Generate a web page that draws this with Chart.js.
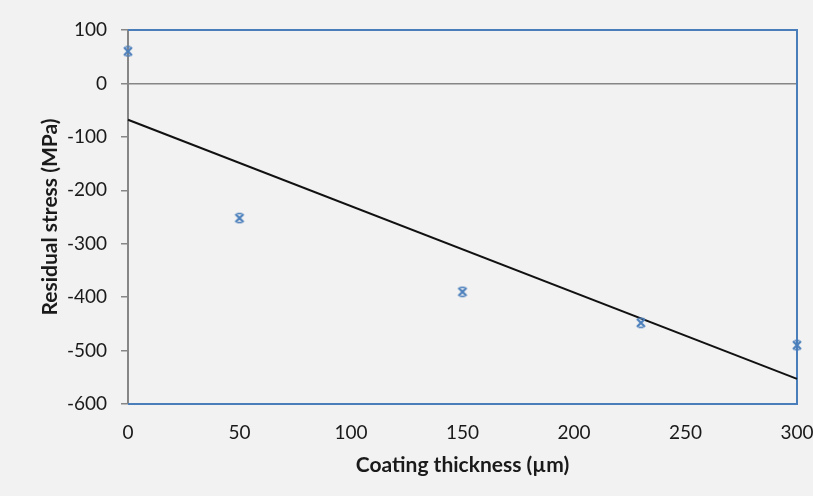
<!DOCTYPE html>
<html lang="en">
<head>
  <meta charset="UTF-8">
  <title>Residual stress vs coating thickness</title>
  <script src="https://cdn.jsdelivr.net/npm/chart.js"></script>
  <style>
    html, body {
      margin: 0;
      padding: 0;
      background: #f2f2f2;
    }
    #wrap {
      width: 813px;
      height: 496px;
    }
  </style>
</head>
<body>
  <div id="wrap"><canvas id="chart" width="813" height="496"></canvas></div>
  <script>
    // Measured points
    const thickness = [0, 50, 150, 230, 300];
    const stress = [60, -252, -390, -448, -490];

    // Trend line end points
    const trendX = [0, 300];
    const trendY = [-68, -553];

    const yTicks = [100, 0, -100, -200, -300, -400, -500, -600];
    const xTicks = [0, 50, 100, 150, 200, 250, 300];

    const blue = '#4a7ebb';
    const axisGray = '#868686';

    // marker: an x with little caps top and bottom
    function makeMarker() {
      const c = document.createElement('canvas');
      c.width = 12;
      c.height = 12;
      const g = c.getContext('2d');
      g.strokeStyle = blue;
      g.lineWidth = 2.2;
      g.beginPath();
      g.moveTo(2, 2); g.lineTo(10, 10);
      g.moveTo(10, 2); g.lineTo(2, 10);
      g.stroke();
      g.lineWidth = 1.5;
      g.beginPath();
      g.moveTo(3.5, 1.5); g.lineTo(8.5, 1.5);
      g.moveTo(3.5, 10.5); g.lineTo(8.5, 10.5);
      g.stroke();
      return c;
    }

    // blue frame on top, right and bottom of the plot area
    const frame = {
      id: 'frame',
      beforeDatasetsDraw(chart) {
        const { ctx, chartArea: a } = chart;
        ctx.save();
        ctx.strokeStyle = blue;
        ctx.lineWidth = 2;
        ctx.beginPath();
        ctx.moveTo(a.left, a.top);
        ctx.lineTo(a.right, a.top);
        ctx.lineTo(a.right, a.bottom);
        ctx.lineTo(a.left, a.bottom);
        ctx.stroke();
        ctx.restore();
      }
    };

    Chart.defaults.font.family = 'Lato, "Open Sans", sans-serif';
    Chart.defaults.color = '#1a1a1a';

    new Chart(document.getElementById('chart'), {
      type: 'scatter',
      data: {
        datasets: [
          {
            label: 'Measured',
            data: thickness.map((x, i) => ({ x: x, y: stress[i] })),
            pointStyle: makeMarker(),
            showLine: false
          },
          {
            label: 'Trend',
            data: trendX.map((x, i) => ({ x: x, y: trendY[i] })),
            showLine: true,
            borderColor: '#111',
            borderWidth: 2,
            pointRadius: 0
          }
        ]
      },
      options: {
        responsive: false,
        animation: false,
        clip: false,
        layout: { padding: { top: 30, right: 16, left: 34, bottom: 14 } },
        plugins: {
          legend: { display: false },
          tooltip: { enabled: false }
        },
        scales: {
          x: {
            type: 'linear',
            min: 0,
            max: 300,
            afterBuildTicks: (s) => { s.ticks = xTicks.map(v => ({ value: v })); },
            afterFit: (s) => {
              s.height = 78;
              s.paddingLeft = 0;
              s.paddingRight = 0;
            },
            grid: { display: false },
            border: { display: false },
            ticks: { font: { size: 19 }, padding: 9, maxRotation: 0 },
            title: {
              display: true,
              text: 'Coating thickness (µm)',
              font: { size: 21, weight: 'bold' },
              padding: { top: 4 }
            }
          },
          y: {
            min: -600,
            max: 100,
            afterBuildTicks: (s) => { s.ticks = yTicks.map(v => ({ value: v })); },
            afterFit: (s) => { s.width = 94; },
            grid: {
              color: (c) => (c.tick && c.tick.value === 0 ? axisGray : 'transparent'),
              tickColor: axisGray,
              tickLength: 7,
              lineWidth: 1.5
            },
            border: { display: true, color: axisGray, width: 2 },
            ticks: { font: { size: 19 }, padding: 14 },
            title: {
              display: true,
              text: 'Residual stress (MPa)',
              font: { size: 21, weight: 'bold' },
              padding: { bottom: 4 }
            }
          }
        }
      },
      plugins: [frame]
    });
  </script>
</body>
</html>
